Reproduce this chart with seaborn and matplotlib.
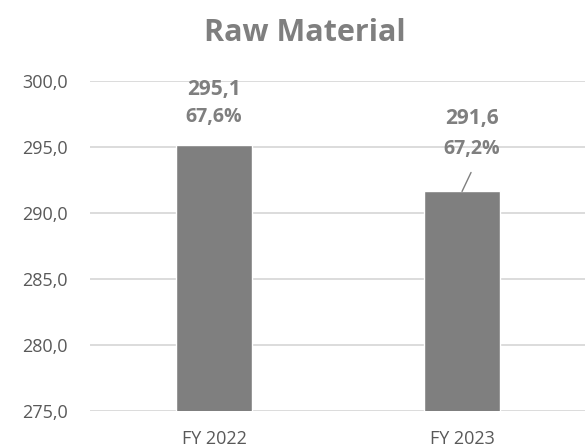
import matplotlib
matplotlib.use("Agg")
import matplotlib.pyplot as plt
import seaborn as sns
from matplotlib.ticker import FuncFormatter

categories = ["FY 2022", "FY 2023"]
values = [295.1, 291.6]
shares = ["67,6%", "67,2%"]
y_ticks = [275.0, 280.0, 285.0, 290.0, 295.0, 300.0]

BAR = "#7f7f7f"
TEXT = "#7f7f7f"
TICK = "#595959"
GRID = "#d9d9d9"

sns.set_theme(style="white")
plt.rcParams["font.family"] = ["Open Sans", "DejaVu Sans"]

fig = plt.figure(figsize=(5.85, 4.48), dpi=100)
ax = fig.add_axes([0.1538, 0.0835, 0.848, 0.7366])

sns.barplot(x=categories, y=values, color=BAR, width=0.31, saturation=1, ax=ax, zorder=2)
ax.set_ylim(275, 300)
ax.set_xlim(-0.5, 1.5)
ax.set_yticks(y_ticks)
ax.yaxis.set_major_formatter(FuncFormatter(lambda v, _: f"{v:.1f}".replace(".", ",")))
ax.grid(axis="y", color=GRID, linewidth=1.3, zorder=0)
ax.set_axisbelow(True)
for s in ax.spines.values():
    s.set_visible(False)
ax.tick_params(axis="y", length=0, pad=16, labelsize=13, labelcolor=TICK)
ax.tick_params(axis="x", length=0, pad=14, labelsize=13, labelcolor=TICK)
ax.set_xlabel("")
ax.set_ylabel("")

# data labels: value and share, offsets in pixels from the bar top
offsets = [((0, 56), (0, 28)), ((10, 73), (10, 42))]
for i, (v, sh) in enumerate(zip(values, shares)):
    (vx, vy), (px, py) = offsets[i]
    ax.annotate(f"{v:.1f}".replace(".", ","), (i, v), xytext=(vx, vy),
                textcoords="offset pixels", ha="center", va="center",
                fontsize=15, fontweight="bold", color=TEXT, clip_on=False)
    ax.annotate(sh, (i, v), xytext=(px, py), textcoords="offset pixels",
                ha="center", va="center", fontsize=14, fontweight="bold",
                color=TEXT, clip_on=False)

# leader line for the second label
ax.annotate("", xy=(1, values[1]), xytext=(9, 19), textcoords="offset pixels",
            arrowprops=dict(arrowstyle="-", color=TEXT, lw=1, shrinkA=0, shrinkB=0))

fig.text(0.521, 0.926, "Raw Material", ha="center", va="center",
         fontsize=22, fontweight="bold", color=TEXT)

fig.savefig("out.png", dpi=100)
